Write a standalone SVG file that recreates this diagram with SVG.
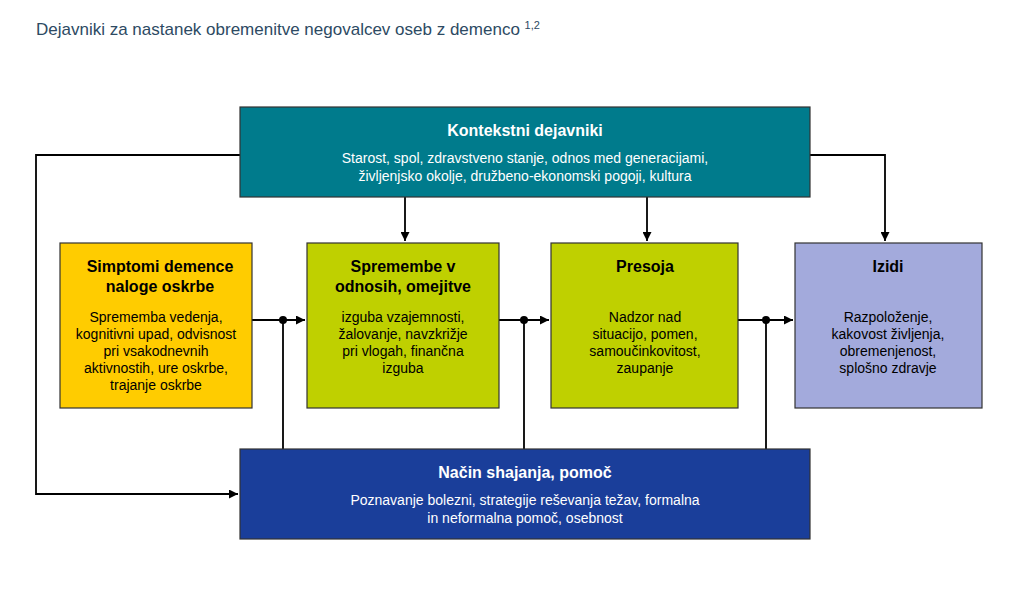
<svg xmlns="http://www.w3.org/2000/svg" width="1015" height="604" viewBox="0 0 1015 604">
<defs><marker id="ah" viewBox="0 0 10 10" refX="10" refY="5" markerWidth="9" markerHeight="9" markerUnits="userSpaceOnUse" orient="auto"><path d="M0,0L10,5L0,10z" fill="#000"/></marker></defs>
<style>
text{font-family:"Liberation Sans",Arial,sans-serif;text-anchor:middle;font-size:14px;fill:#000}
.h{font-weight:bold;font-size:16px}
.w{fill:#fff}
.box{stroke:#333;stroke-width:1.2}
.c{fill:none;stroke:#000;stroke-width:1.8}
</style>
<rect width="1015" height="604" fill="#fff"/>
<text x="36" y="35" style="text-anchor:start;font-size:17px;fill:#2d4a63">Dejavniki za nastanek obremenitve negovalcev oseb z demenco <tspan font-size="11" dy="-6">1,2</tspan></text>
<g id="connectors">
<path class="c" d="M405,197V241" marker-end="url(#ah)"/>
<path class="c" d="M647,197V241" marker-end="url(#ah)"/>
<path class="c" d="M810,155H885V241" marker-end="url(#ah)"/>
<path class="c" d="M240,155H36V494H238" marker-end="url(#ah)"/>
<path class="c" d="M252,320H305" marker-end="url(#ah)"/>
<path class="c" d="M499,320H549" marker-end="url(#ah)"/>
<path class="c" d="M738,320H793" marker-end="url(#ah)"/>
<path class="c" d="M283,320V449M524,320V449M766,320V449"/>
<circle cx="283" cy="320" r="4"/><circle cx="524" cy="320" r="4"/><circle cx="766" cy="320" r="4"/>
</g>
<g id="kontekst"><rect class="box" x="240" y="107" width="570" height="90" fill="#007b8c"/>
<text class="h w" x="525" y="136">Kontekstni dejavniki</text>
<text class="w" x="525" y="163">Starost, spol, zdravstveno stanje, odnos med generacijami,</text>
<text class="w" x="525" y="181">življenjsko okolje, družbeno-ekonomski pogoji, kultura</text></g>
<g id="simptomi"><rect class="box" x="60" y="243" width="192" height="165" fill="#ffcc00"/>
<text class="h" x="160" y="272">Simptomi demence</text><text class="h" x="160" y="292">naloge oskrbe</text>
<text x="156" y="322">Sprememba vedenja,</text><text x="156" y="339">kognitivni upad, odvisnost</text><text x="156" y="356">pri vsakodnevnih</text><text x="156" y="373">aktivnostih, ure oskrbe,</text><text x="156" y="390">trajanje oskrbe</text></g>
<g id="spremembe"><rect class="box" x="307" y="243" width="192" height="165" fill="#bfd000"/>
<text class="h" x="403" y="272">Spremembe v</text><text class="h" x="403" y="292">odnosih, omejitve</text>
<text x="403" y="322">izguba vzajemnosti,</text><text x="403" y="339">žalovanje, navzkrižje</text><text x="403" y="356">pri vlogah, finančna</text><text x="403" y="373">izguba</text></g>
<g id="presoja"><rect class="box" x="551" y="243" width="187" height="165" fill="#bfd000"/>
<text class="h" x="645" y="272">Presoja</text>
<text x="645" y="322">Nadzor nad</text><text x="645" y="339">situacijo, pomen,</text><text x="645" y="356">samoučinkovitost,</text><text x="645" y="373">zaupanje</text></g>
<g id="izidi"><rect class="box" x="795" y="243" width="187" height="165" fill="#a3aadc"/>
<text class="h" x="888" y="272">Izidi</text>
<text x="888" y="322">Razpoloženje,</text><text x="888" y="339">kakovost življenja,</text><text x="888" y="356">obremenjenost,</text><text x="888" y="373">splošno zdravje</text></g>
<g id="nacin"><rect class="box" x="240" y="449" width="570" height="90" fill="#1a3e9a"/>
<text class="h w" x="525" y="478">Način shajanja, pomoč</text>
<text class="w" x="525" y="505">Poznavanje bolezni, strategije reševanja težav, formalna</text>
<text class="w" x="525" y="523">in neformalna pomoč, osebnost</text></g>
</svg>
